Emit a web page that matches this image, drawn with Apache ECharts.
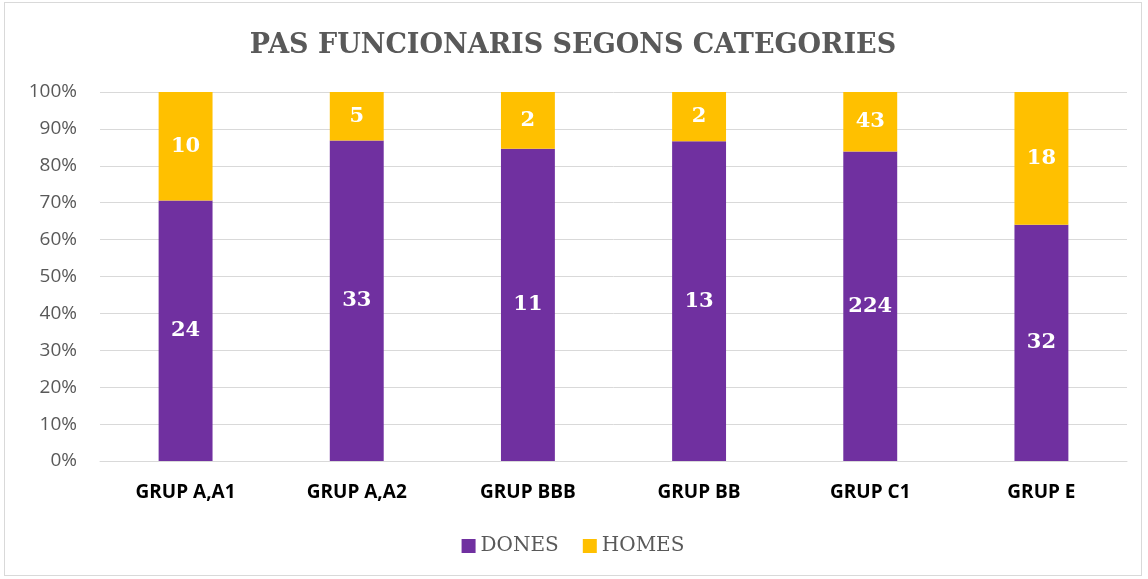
<!DOCTYPE html>
<html>
<head>
<meta charset="utf-8">
<script src="https://cdn.jsdelivr.net/npm/echarts@6/dist/echarts.min.js"></script>
<style>
html,body{margin:0;padding:0;background:#fff;}
#main{position:absolute;left:4px;top:2px;width:1138px;height:574px;border:1px solid #d9d9d9;box-sizing:border-box;}
</style>
</head>
<body>
<div id="main"></div>
<script>
var categories = ['GRUP A,A1', 'GRUP A,A2', 'GRUP BBB', 'GRUP BB', 'GRUP C1', 'GRUP E'];
var dones = [24, 33, 11, 13, 224, 32];
var homes = [10, 5, 2, 2, 43, 18];
var yTicks = [0, 10, 20, 30, 40, 50, 60, 70, 80, 90, 100];

var dom = document.getElementById("main");
var myChart = echarts.init(dom);
var option = null;

// percent of each group, label keeps the raw count
function pct(arr, idx) {
    var total = dones[idx] + homes[idx];
    return arr[idx] / total * 100;
}
var donesData = [];
var homesData = [];
for (var i = 0; i < categories.length; i++) {
    donesData.push({value: pct(dones, i), raw: dones[i]});
    homesData.push({value: pct(homes, i), raw: homes[i]});
}

var labelStyle = {
    show: true,
    position: 'inside',
    color: '#fff',
    fontFamily: 'DejaVu Serif',
    fontWeight: 'bold',
    fontSize: 21,
    formatter: function (p) { return p.data.raw; }
};

option = {
    animation: false,
    backgroundColor: '#fff',
    title: {
        text: 'PAS FUNCIONARIS SEGONS CATEGORIES',
        left: 'center',
        top: 24,
        textStyle: {
            fontFamily: 'DejaVu Serif',
            fontWeight: 'bold',
            fontSize: 27,
            color: '#595959'
        }
    },
    legend: {
        bottom: 14,
        left: 'center',
        itemWidth: 14,
        itemHeight: 14,
        itemGap: 24,
        icon: 'rect',
        textStyle: {
            fontFamily: 'DejaVu Serif',
            fontSize: 20,
            color: '#595959'
        },
        data: ['DONES', 'HOMES']
    },
    grid: {
        left: 95,
        right: 14,
        top: 89,
        bottom: 114
    },
    xAxis: {
        type: 'category',
        data: categories,
        axisLine: {lineStyle: {color: '#d9d9d9'}},
        axisTick: {show: false},
        axisLabel: {
            margin: 22,
            fontFamily: 'Open Sans',
            fontWeight: 'bold',
            fontSize: 19,
            color: '#000'
        }
    },
    yAxis: {
        type: 'value',
        min: 0,
        max: 100,
        interval: 10,
        axisLine: {show: false},
        axisTick: {show: false},
        splitLine: {lineStyle: {color: '#d9d9d9', width: 1}},
        axisLabel: {
            margin: 23,
            fontFamily: 'Open Sans',
            fontSize: 19,
            color: '#595959',
            formatter: function (v) { return yTicks.indexOf(v) >= 0 ? v + '%' : ''; }
        }
    },
    series: [
        {
            name: 'DONES',
            type: 'bar',
            stack: 'total',
            barWidth: '31.5%',
            itemStyle: {color: '#7030A0'},
            label: labelStyle,
            data: donesData
        },
        {
            name: 'HOMES',
            type: 'bar',
            stack: 'total',
            barWidth: '31.5%',
            itemStyle: {color: '#FFC000'},
            label: labelStyle,
            data: homesData
        }
    ]
};

if (option && typeof option === "object") {
    myChart.setOption(option, true);
}
</script>
</body>
</html>
